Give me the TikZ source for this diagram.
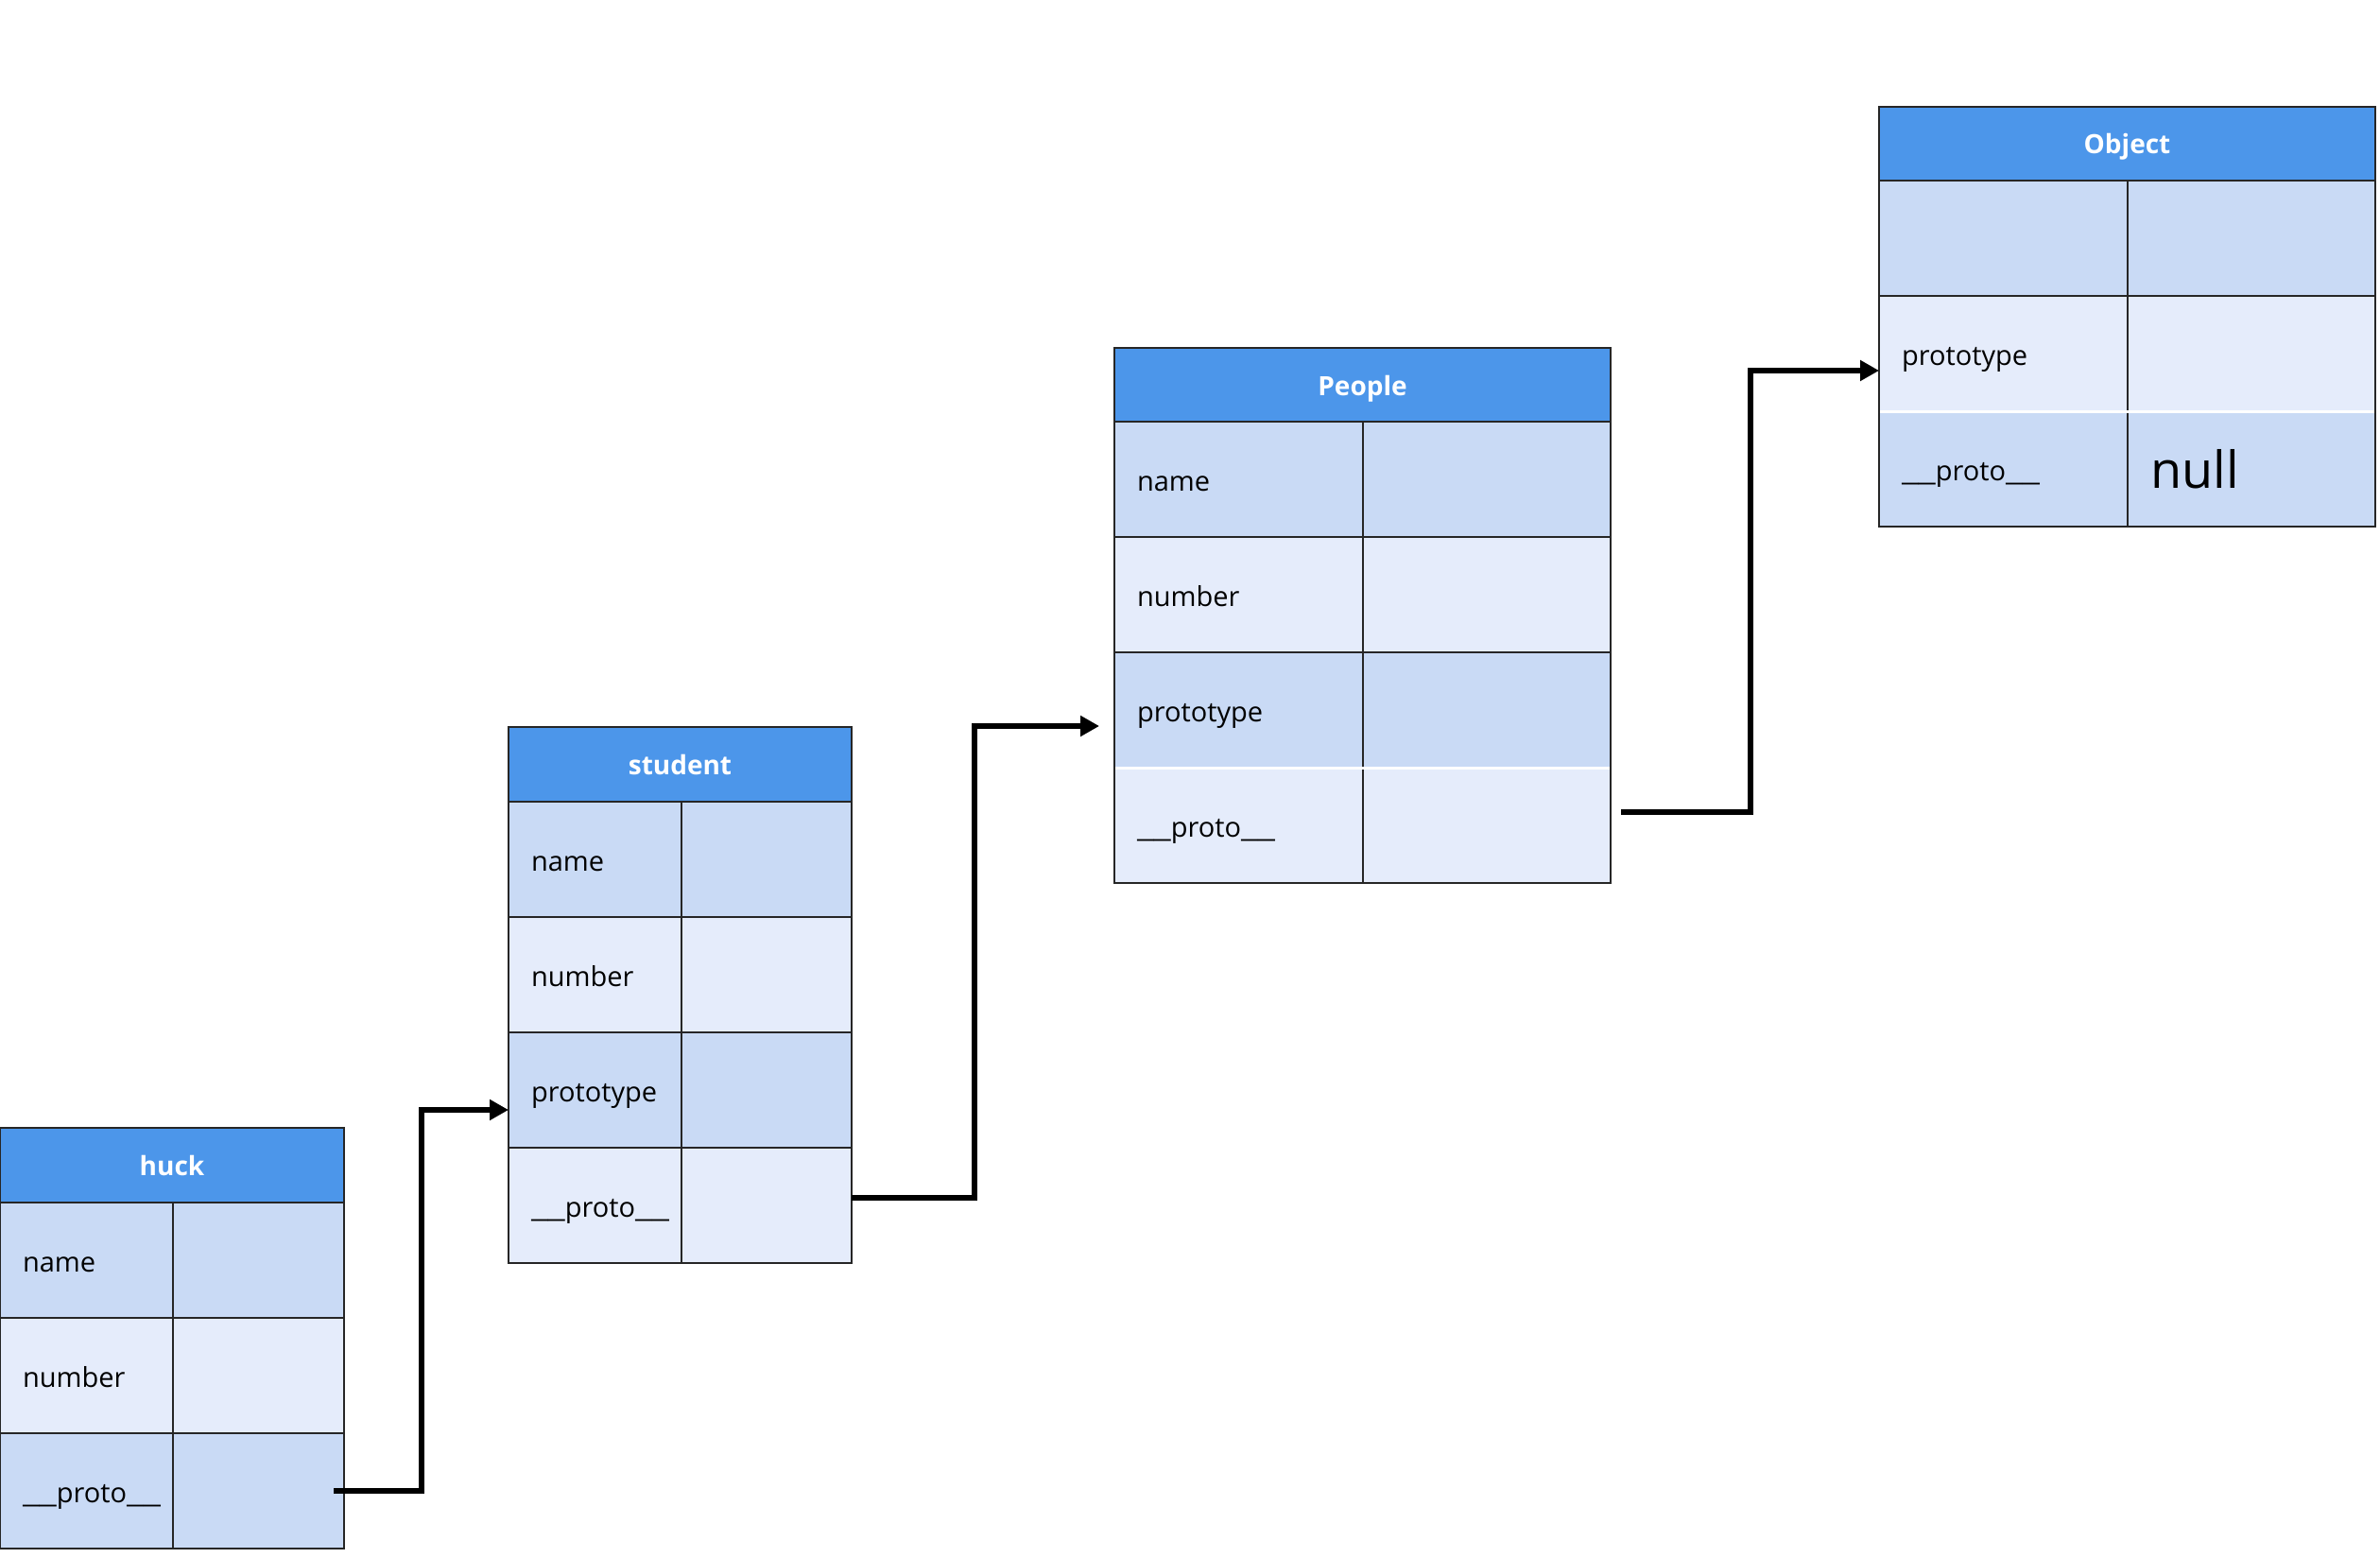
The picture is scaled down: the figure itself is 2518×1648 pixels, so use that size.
\documentclass[tikz,border=0pt]{standalone}
\usepackage{fontspec}
\setmainfont{Open Sans}
\usetikzlibrary{arrows.meta}
\definecolor{hdrblue}{HTML}{4C96EA}
\definecolor{rowdark}{HTML}{C9DAF5}
\definecolor{rowlight}{HTML}{E5ECFB}
\definecolor{edge}{HTML}{262626}
\newcommand{\us}{\scalebox{1.38}[1]{\_}}
\newcommand{\kt}[1]{\raisebox{-5pt}[15.5pt][0pt]{#1}}
\tikzset{
  cellbase/.style={draw=edge, line width=2pt, minimum height=122pt, anchor=north west,
    inner sep=0pt, outer sep=0pt, font=\fontsize{29}{34}\selectfont},
  keycell/.style={cellbase, inner xsep=24pt, text width=#1, align=left},
  valcell/.style={cellbase, minimum width=#1},
  header/.style={draw=edge, line width=2pt, fill=hdrblue, text=white, anchor=north west,
    minimum height=79pt, inner sep=0pt, outer sep=0pt, minimum width=#1,
    text height=21pt, text depth=0pt,
    font=\fontsize{28}{34}\selectfont\bfseries},
  conn/.style={draw=black, line width=6pt, -{Triangle[length=20pt,width=21pt]}},
  sep/.style={draw=white, line width=3pt}
}
\begin{document}
\begin{tikzpicture}[x=1pt,y=-1pt]
\useasboundingbox (0,0) rectangle (2518,1648);

% huck
\node[header=364pt] (huck) at (0,1193) {huck};
\node[keycell=135pt, fill=rowdark]  (hk1) at (0,1272) {\kt{name}};
\node[valcell=181pt, fill=rowdark]  (hv1) at (183,1272) {};
\node[keycell=135pt, fill=rowlight] (hk2) at (0,1394) {\kt{number}};
\node[valcell=181pt, fill=rowlight] (hv2) at (183,1394) {};
\node[keycell=135pt, fill=rowdark]  (hk3) at (0,1516) {\kt{\us\us proto\us\us}};
\node[valcell=181pt, fill=rowdark]  (hv3) at (183,1516) {};

% student
\node[header=363pt] (student) at (538,769) {student};
\node[keycell=135pt, fill=rowdark]  (sk1) at (538,848) {\kt{name}};
\node[valcell=180pt, fill=rowdark]  (sv1) at (721,848) {};
\node[keycell=135pt, fill=rowlight] (sk2) at (538,970) {\kt{number}};
\node[valcell=180pt, fill=rowlight] (sv2) at (721,970) {};
\node[keycell=135pt, fill=rowdark]  (sk3) at (538,1092) {\kt{prototype}};
\node[valcell=180pt, fill=rowdark]  (sv3) at (721,1092) {};
\node[keycell=135pt, fill=rowlight] (sk4) at (538,1214) {\kt{\us\us proto\us\us}};
\node[valcell=180pt, fill=rowlight] (sv4) at (721,1214) {};

% People
\node[header=525pt] (people) at (1179,368) {People};
\node[keycell=215pt, fill=rowdark]  (pk1) at (1179,446) {\kt{name}};
\node[valcell=262pt, fill=rowdark]  (pv1) at (1442,446) {};
\node[keycell=215pt, fill=rowlight] (pk2) at (1179,568) {\kt{number}};
\node[valcell=262pt, fill=rowlight] (pv2) at (1442,568) {};
\node[keycell=215pt, fill=rowdark]  (pk3) at (1179,690) {\kt{prototype}};
\node[valcell=262pt, fill=rowdark]  (pv3) at (1442,690) {};
\node[keycell=215pt, fill=rowlight] (pk4) at (1179,812) {\kt{\us\us proto\us\us}};
\node[valcell=262pt, fill=rowlight] (pv4) at (1442,812) {};
\draw[sep] ([xshift=1pt]pk4.north west) -- ([xshift=-1pt]pv4.north east);

% Object
\node[header=525pt] (object) at (1988,113) {Object};
\node[keycell=215pt, fill=rowdark]  (ok1) at (1988,191) {};
\node[valcell=262pt, fill=rowdark]  (ov1) at (2251,191) {};
\node[keycell=215pt, fill=rowlight] (ok2) at (1988,313) {\kt{prototype}};
\node[valcell=262pt, fill=rowlight] (ov2) at (2251,313) {};
\node[keycell=215pt, fill=rowdark]  (ok3) at (1988,435) {\kt{\us\us proto\us\us}};
\node[valcell=262pt, fill=rowdark, font=\fontsize{54}{60}\selectfont, text width=214pt, inner xsep=24pt, align=left] (ov3) at (2251,435) {null};
\draw[sep] ([xshift=1pt]ok3.north west) -- ([xshift=-1pt]ov3.north east);

% connectors
\draw[conn] ([xshift=-11pt]hv3.east) -- ++(93,0) |- ([yshift=-21pt]sk3.west);
\draw[conn] ([yshift=8pt]sv4.east) -- ++(130,0) |- ([xshift=-16pt,yshift=-17pt]pk3.west);
\draw[conn] ([xshift=11pt,yshift=14pt]pv4.east) -- ++(137,0) |- ([yshift=-18pt]ok2.west);
\end{tikzpicture}
\end{document}
